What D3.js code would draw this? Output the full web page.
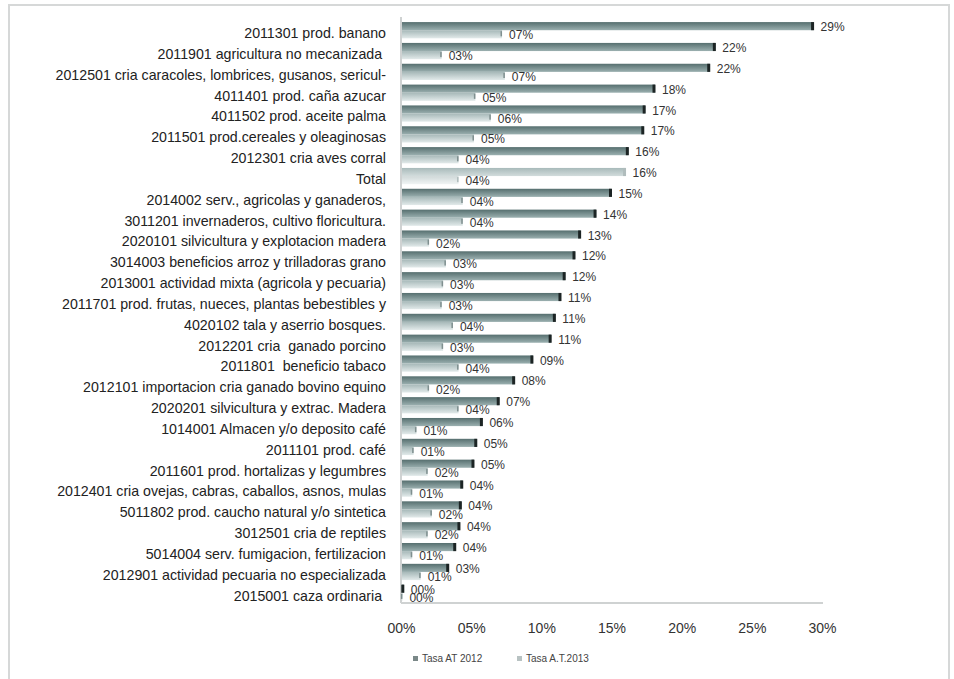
<!DOCTYPE html>
<html>
<head>
<meta charset="utf-8">
<script src="https://cdn.jsdelivr.net/npm/d3@7"></script>
<style>
  body { margin: 0; background: #fff; }
  svg { font-family: "Liberation Sans", Arial, sans-serif; }
</style>
</head>
<body>
<svg width="954" height="679"></svg>
<script>
// data
var categories = [
  "2011301 prod. banano",
  "2011901 agricultura no mecanizada ",
  "2012501 cria caracoles, lombrices, gusanos, sericul-",
  "4011401 prod. caña azucar",
  "4011502 prod. aceite palma",
  "2011501 prod.cereales y oleaginosas",
  "2012301 cria aves corral",
  "Total",
  "2014002 serv., agricolas y ganaderos,",
  "3011201 invernaderos, cultivo floricultura.",
  "2020101 silvicultura y explotacion madera",
  "3014003 beneficios arroz y trilladoras grano",
  "2013001 actividad mixta (agricola y pecuaria)",
  "2011701 prod. frutas, nueces, plantas bebestibles y",
  "4020102 tala y aserrio bosques.",
  "2012201 cria  ganado porcino",
  "2011801  beneficio tabaco",
  "2012101 importacion cria ganado bovino equino",
  "2020201 silvicultura y extrac. Madera",
  "1014001 Almacen y/o deposito café",
  "2011101 prod. café",
  "2011601 prod. hortalizas y legumbres",
  "2012401 cria ovejas, cabras, caballos, asnos, mulas",
  "5011802 prod. caucho natural y/o sintetica",
  "3012501 cria de reptiles",
  "5014004 serv. fumigacion, fertilizacion",
  "2012901 actividad pecuaria no especializada",
  "2015001 caza ordinaria "
];
var tasa2012 = [29.4, 22.4, 22.0, 18.1, 17.4, 17.3, 16.2, 16.0, 15.0, 13.9, 12.8, 12.4, 11.7,
                11.4, 11.0, 10.7, 9.4, 8.1, 7.0, 5.8, 5.4, 5.2, 4.4, 4.3, 4.2, 3.9, 3.4, 0.2];
var tasa2013 = [7.2, 2.9, 7.4, 5.3, 6.4, 5.2, 4.1, 4.1, 4.4, 4.4, 2.0, 3.2, 3.0,
                2.9, 3.7, 3.0, 4.1, 2.0, 4.1, 1.1, 0.9, 1.9, 0.8, 2.2, 1.9, 0.8, 1.4, 0.1];
var xTicks = [0, 5, 10, 15, 20, 25, 30];
var seriesNames = ["Tasa AT 2012", "Tasa A.T.2013"];

var svg = d3.select("svg"),
    margin = {top: 20, right: 132, bottom: 76, left: 401},
    width = +svg.attr("width") - margin.left - margin.right,
    height = +svg.attr("height") - margin.top - margin.bottom;

// frame
svg.append("rect")
    .attr("x", 9).attr("y", 5)
    .attr("width", 940).attr("height", 690)
    .attr("fill", "none")
    .attr("stroke", "#d6d8d8")
    .attr("stroke-width", 2);

var defs = svg.append("defs");
function grad(id, top, bottom) {
  var lg = defs.append("linearGradient").attr("id", id)
      .attr("x1", 0).attr("y1", 0).attr("x2", 0).attr("y2", 1);
  lg.append("stop").attr("offset", "0%").attr("stop-color", top);
  lg.append("stop").attr("offset", "100%").attr("stop-color", bottom);
}
grad("g2012", "#566f6f", "#9bb0b0");
grad("g2013", "#a6b8b8", "#e2eaea");
grad("g2012t", "#a8baba", "#d2dcdc");
grad("g2013t", "#cfd8d8", "#f0f4f4");

var g = svg.append("g").attr("transform", "translate(" + margin.left + "," + margin.top + ")");

var x = d3.scaleLinear().domain([0, 30]).range([0, width]);
var y = d3.scaleBand().domain(categories).range([0, height]).paddingInner(0.22).paddingOuter(0.1);
var ySub = d3.scaleBand().domain(seriesNames).range([0, y.bandwidth()]);

// axis lines
g.append("line")
    .attr("x1", 0).attr("x2", 0).attr("y1", -3).attr("y2", height)
    .attr("stroke", "#cfd2d2").attr("stroke-width", 2);
g.append("line")
    .attr("x1", 0).attr("x2", width + 1).attr("y1", height).attr("y2", height)
    .attr("stroke", "#cfd2d2").attr("stroke-width", 2);

// x axis
var xAxis = g.append("g")
    .attr("transform", "translate(0," + (height + 17) + ")")
    .call(d3.axisBottom(x).tickValues(xTicks).tickSize(0)
      .tickFormat(function(d) { return d3.format("02d")(d) + "%"; }));
xAxis.select(".domain").remove();
xAxis.selectAll("text").attr("font-size", 14).attr("fill", "#333")
    .attr("font-family", "Liberation Sans, Arial, sans-serif");

// y axis labels
var yAxis = g.append("g")
    .attr("transform", "translate(-12,0)")
    .call(d3.axisLeft(y).tickSize(0));
yAxis.select(".domain").remove();
yAxis.selectAll("text").attr("font-size", 14.2).attr("fill", "#222")
    .attr("dy", "0.55em")
    .attr("font-family", "Liberation Sans, Arial, sans-serif")
    .style("white-space", "pre");

// bars
var rows = categories.map(function(c, i) {
  return {cat: c, total: c === "Total", vals: [tasa2012[i], tasa2013[i]]};
});

var row = g.selectAll(".row")
    .data(rows)
    .join("g")
    .attr("class", "row")
    .attr("transform", function(d) { return "translate(0," + y(d.cat) + ")"; });

var bar = row.selectAll(".bar")
    .data(function(d) {
      return d.vals.map(function(v, k) { return {s: k, v: v, total: d.total}; });
    })
    .join("g")
    .attr("class", "bar")
    .attr("transform", function(d) { return "translate(0," + ySub(seriesNames[d.s]) + ")"; });

bar.append("rect")
    .attr("x", 1)
    .attr("width", function(d) { return Math.max(0, x(d.v) - 1); })
    .attr("height", ySub.bandwidth())
    .attr("fill", function(d) {
      return "url(#g" + (d.s === 0 ? "2012" : "2013") + (d.total ? "t" : "") + ")";
    });

// end caps
bar.append("rect")
    .attr("x", function(d) { return x(d.v) - (d.s === 0 ? 2.5 : 1.5); })
    .attr("y", function(d) { return d.s === 0 ? 0 : 1; })
    .attr("width", function(d) { return d.s === 0 ? 3 : 1.5; })
    .attr("height", function(d) { return d.s === 0 ? ySub.bandwidth() : ySub.bandwidth() - 3; })
    .attr("fill", function(d) {
      if (d.total) return "#b0bcbc";
      return d.s === 0 ? "#1c2424" : "#7f8f8f";
    });

// value labels
bar.append("text")
    .attr("x", function(d) { return x(d.v) + 7; })
    .attr("y", ySub.bandwidth() / 2 + 5)
    .attr("font-size", 12)
    .attr("fill", "#333")
    .text(function(d) { return d3.format("02d")(Math.round(d.v)) + "%"; });

// legend
var legend = svg.append("g").attr("transform", "translate(413,656)");
var leg = legend.selectAll("g")
    .data(seriesNames)
    .join("g")
    .attr("transform", function(d, i) { return "translate(" + (i * 104) + ",0)"; });
leg.append("rect")
    .attr("width", 5).attr("height", 5)
    .attr("fill", function(d, i) { return i === 0 ? "#7a8888" : "#b8c2c2"; });
leg.append("text")
    .attr("x", 9).attr("y", 6)
    .attr("font-size", 10)
    .attr("fill", "#444")
    .text(function(d) { return d; });
</script>
</body>
</html>
